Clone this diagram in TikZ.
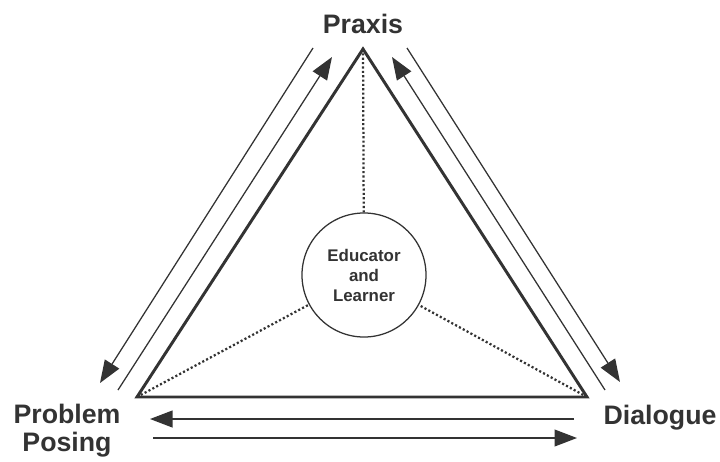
\documentclass[tikz,border=0pt]{standalone}
\usepackage{fontspec}
\setmainfont{Liberation Sans}
\usetikzlibrary{arrows.meta}
\definecolor{ink}{HTML}{333333}

\tikzset{
  side/.style={ink, line width=2.1pt, line join=miter},
  flow/.style={ink, line width=0.9pt, -{Triangle[length=16pt, width=12pt]}},
  link/.style={ink, line width=1.6pt, dash pattern=on 1.5pt off 1.6pt},
  corner/.style={text=ink, font=\fontsize{19}{19.8}\selectfont\bfseries, align=center},
  hub/.style={circle, draw=ink, line width=0.9pt, minimum size=3.1cm, inner sep=0pt,
    text=ink, font=\fontsize{12}{14.2}\selectfont\bfseries, align=center}
}

\begin{document}
\begin{tikzpicture}[x=0.025cm, y=-0.025cm]
    \useasboundingbox (0,0) rectangle (720,461);

    % Corners of the triangle
    \coordinate (praxis) at (363,49);
    \coordinate (posing) at (137,397);
    \coordinate (dialog) at (587,397);

    % Labels
    \node[corner, anchor=base] (praxislbl) at (363,33) {Praxis};
    \node[corner] (posinglbl) at (67,431) {Problem\\Posing};
    \node[corner, anchor=base] (dialoglbl) at (660,424) {Dialogue};

    % Centre
    \node[hub] (el) at (364,275) {Educator\\and\\Learner};

    % Dotted links to the centre
    \draw[link] (praxis) -- (el);
    \draw[link] (posing) -- (el);
    \draw[link] (dialog) -- (el);

    % Triangle
    \draw[side] (praxis) -- (dialog) -- (posing) -- cycle;

    % Arrow ends
    \coordinate (l-out-a) at (313,48);
    \coordinate (l-out-b) at (100,383);
    \coordinate (l-in-a) at (118,390);
    \coordinate (l-in-b) at (332,57);
    \coordinate (r-in-a) at (605,390);
    \coordinate (r-in-b) at (392,57);
    \coordinate (r-out-a) at (407,48);
    \coordinate (r-out-b) at (620,382);
    \coordinate (b-up-a) at (574,419);
    \coordinate (b-up-b) at (150,419);
    \coordinate (b-lo-a) at (153,438);
    \coordinate (b-lo-b) at (577,438);

    % Arrows along the sides
    \draw[flow] (l-out-a) -- (l-out-b);
    \draw[flow] (l-in-a) -- (l-in-b);
    \draw[flow] (r-in-a) -- (r-in-b);
    \draw[flow] (r-out-a) -- (r-out-b);
    \draw[flow] (b-up-a) -- (b-up-b);
    \draw[flow] (b-lo-a) -- (b-lo-b);
\end{tikzpicture}
\end{document}
